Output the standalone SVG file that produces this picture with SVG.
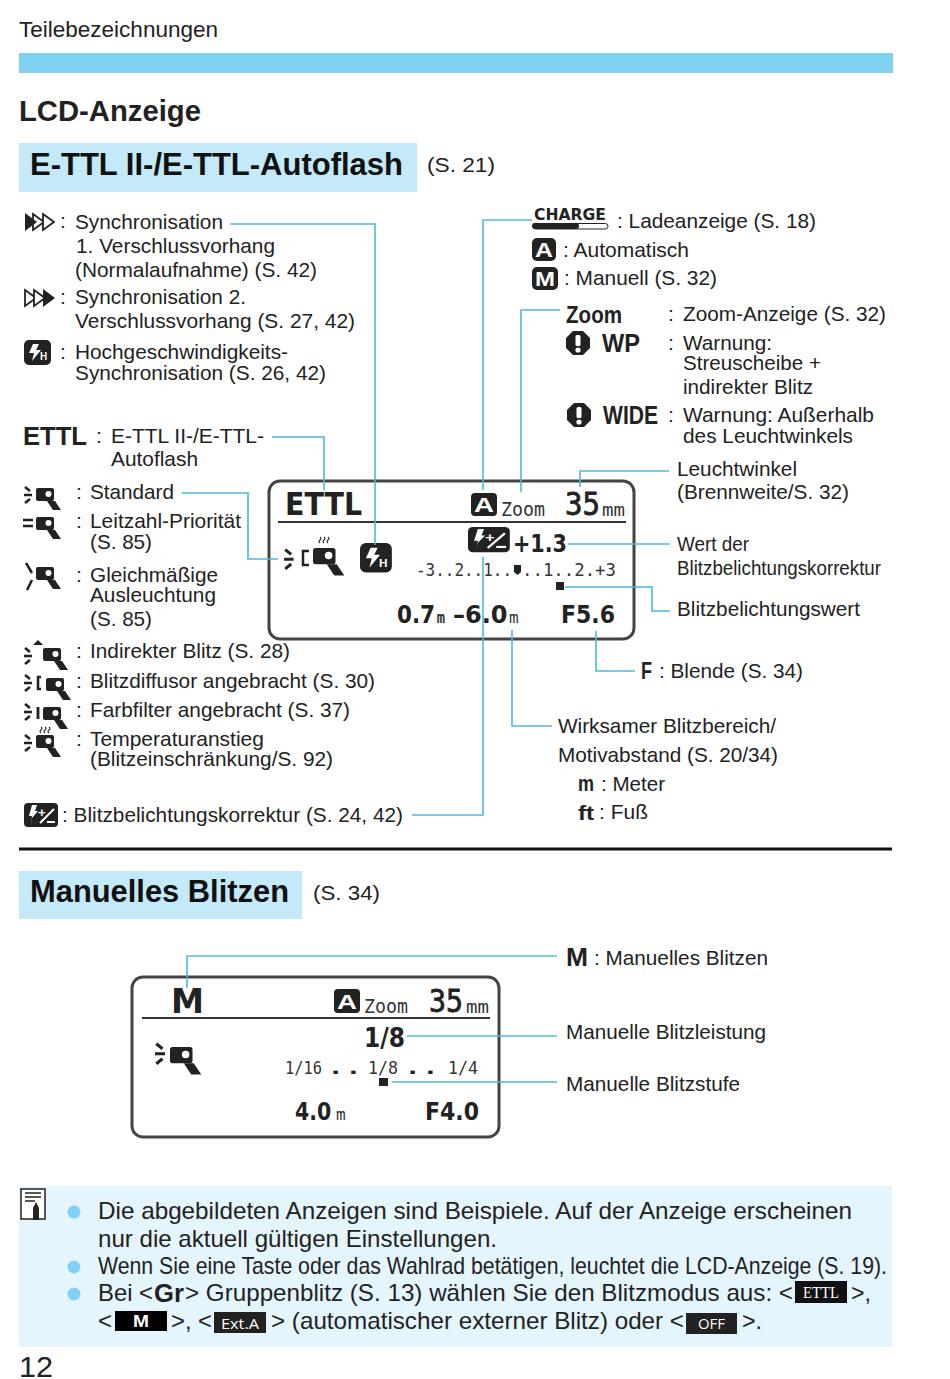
<svg xmlns="http://www.w3.org/2000/svg" width="950" height="1379" viewBox="0 0 950 1379">
<style>
text{font-family:"Liberation Sans",Arial,sans-serif;fill:#222}
.b{font-size:21px}
.s{font-size:20px}
.n{font-size:24px}
.h{font-weight:700}
.t{font-size:32px;font-weight:700;fill:#111}
.lcd{font-family:"DejaVu Sans",sans-serif;font-weight:700;fill:#222}
.med{font-family:"DejaVu Sans Mono",monospace;fill:#222;stroke:#222;stroke-width:.8px}
.thin{font-family:"DejaVu Sans Mono",monospace;fill:#333}
.w{fill:#fff;font-weight:700}
.c{fill:none;stroke:#4db9de;stroke-width:1.6}
.box{fill:#fff;stroke:#444;stroke-width:3}
.div{stroke:#333;stroke-width:2}
.ray{stroke:#222;stroke-width:2.500;fill:none}
.k{fill:#222}
.o{fill:#fff;stroke:#222;stroke-width:1.800}
</style>
<defs>
<g id="head"><rect x="12" y="4" width="18" height="13" rx="2" fill="#222"/><circle cx="24.500" cy="10" r="3" fill="#fff"/><path d="M23 17h8l6 9h-8z" fill="#222"/></g>
<g id="rays"><path class="ray" d="M1 3l5 4M0 11h8M1 19l5-4"/></g>
<g id="waves"><path class="ray" style="stroke-width:1.100" d="M0 0q2 1.500 0 3t0 3M4 0q2 1.500 0 3t0 3M8 0q2 1.500 0 3t0 3"/></g>
<g id="bolt"><path d="M10 2h6l-3 6h5l-9 11 2-8H6z" fill="#fff"/></g>
<g id="fp"><rect width="27" height="25" rx="5" fill="#222"/><use href="#bolt" x="-1" y="2"/><text x="16" y="20" font-size="10" class="w">H</text></g>
<g id="fec"><rect width="34" height="24" rx="4" fill="#222"/><path d="M8 2h5l-2 6h3l-6 7-1 7 1-9H5z" fill="#fff"/><text x="14" y="14" font-size="13" class="w">+</text><path d="M16 20L30 6" stroke="#fff" stroke-width="2"/><path d="M23 19h8" stroke="#fff" stroke-width="2"/></g>
<g id="warn"><path d="M-5-12H5L12-5V5L5 12H-5L-12 5V-5z" fill="#222"/><rect x="-2.500" y="-8" width="5" height="11" rx="1.500" fill="#fff"/><circle cy="7" r="2.600" fill="#fff"/></g>
</defs>

<g id="header">
<text x="19" y="37" font-size="22" textLength="199" lengthAdjust="spacingAndGlyphs">Teilebezeichnungen</text>
<rect x="19" y="53" width="874" height="20" fill="#7fd1f2"/>
<text x="19" y="121" font-size="29" class="h" fill="#111" textLength="182" lengthAdjust="spacingAndGlyphs">LCD-Anzeige</text>
</g>

<g id="section-ettl">
<rect x="19" y="143" width="398" height="49" fill="#c4e9f8"/>
<text x="30" y="175" class="t" textLength="373" lengthAdjust="spacingAndGlyphs">E-TTL II-/E-TTL-Autoflash</text>
<text x="427" y="172" class="b" textLength="68" lengthAdjust="spacingAndGlyphs">(S. 21)</text>
</g>

<g id="legend-left">
<g id="sync1"><path class="o" d="M33 214l11 8-11 8z"/><path class="o" d="M43 214l11 8-11 8z"/><path class="k" d="M25 213l12 9-12 9z"/><text x="60" y="228" class="b">:</text>
<text x="75" y="229" class="b" textLength="148" lengthAdjust="spacingAndGlyphs">Synchronisation</text>
<text x="76" y="253" class="b" textLength="199" lengthAdjust="spacingAndGlyphs">1. Verschlussvorhang</text>
<text x="75" y="277" class="b" textLength="242" lengthAdjust="spacingAndGlyphs">(Normalaufnahme) (S. 42)</text></g>
<g id="sync2"><path class="o" d="M25 290l11 8-11 8z"/><path class="o" d="M34 290l11 8-11 8z"/><path class="k" d="M43 289l12 9-12 9z"/><text x="60" y="304" class="b">:</text>
<text x="75" y="304" class="b" textLength="171" lengthAdjust="spacingAndGlyphs">Synchronisation 2.</text>
<text x="75" y="328" class="b" textLength="280" lengthAdjust="spacingAndGlyphs">Verschlussvorhang (S. 27, 42)</text></g>
<g id="hss"><use href="#fp" x="24" y="340"/><text x="60" y="359" class="b">:</text>
<text x="75" y="359" class="b" textLength="213" lengthAdjust="spacingAndGlyphs">Hochgeschwindigkeits-</text>
<text x="75" y="380" class="b" textLength="251" lengthAdjust="spacingAndGlyphs">Synchronisation (S. 26, 42)</text></g>
<g id="ettl"><text x="23" y="445" font-size="25" class="h" textLength="64" lengthAdjust="spacingAndGlyphs">ETTL</text><text x="96" y="443" class="b">:</text>
<text x="111" y="443" class="b" textLength="153" lengthAdjust="spacingAndGlyphs">E-TTL II-/E-TTL-</text>
<text x="111" y="466" class="b" textLength="87" lengthAdjust="spacingAndGlyphs">Autoflash</text></g>
<g id="standard"><use href="#rays" x="24" y="484"/><use href="#head" x="24" y="484"/><text x="76" y="499" class="b">:</text>
<text x="90" y="499" class="b" textLength="84" lengthAdjust="spacingAndGlyphs">Standard</text></g>
<g id="guide"><path class="ray" d="M23 520h10M23 526h10"/><use href="#head" x="24" y="513"/><text x="76" y="528" class="b">:</text>
<text x="90" y="528" class="b" textLength="151" lengthAdjust="spacingAndGlyphs">Leitzahl-Priorität</text>
<text x="90" y="549" class="b" textLength="62" lengthAdjust="spacingAndGlyphs">(S. 85)</text></g>
<g id="even"><path class="ray" d="M26 563l6 10M32 580l-5 10"/><use href="#head" x="24" y="563"/><text x="76" y="582" class="b">:</text>
<text x="90" y="582" class="b" textLength="128" lengthAdjust="spacingAndGlyphs">Gleichmäßige</text>
<text x="90" y="602" class="b" textLength="126" lengthAdjust="spacingAndGlyphs">Ausleuchtung</text>
<text x="90" y="626" class="b" textLength="62" lengthAdjust="spacingAndGlyphs">(S. 85)</text></g>
<g id="bounce"><use href="#rays" x="24" y="645"/><path class="k" d="M38 640l5 5h-10z"/><use href="#head" x="31" y="644"/><text x="76" y="658" class="b">:</text>
<text x="90" y="658" class="b" textLength="200" lengthAdjust="spacingAndGlyphs">Indirekter Blitz (S. 28)</text></g>
<g id="diffuser"><use href="#rays" x="24" y="672"/><path class="ray" d="M41 677h-3v12h3"/><use href="#head" x="34" y="674"/><text x="76" y="688" class="b">:</text>
<text x="90" y="688" class="b" textLength="285" lengthAdjust="spacingAndGlyphs">Blitzdiffusor angebracht (S. 30)</text></g>
<g id="filter"><use href="#rays" x="24" y="701"/><path class="ray" style="stroke-width:2.800" d="M38 707v12"/><use href="#head" x="31" y="703"/><text x="76" y="717" class="b">:</text>
<text x="90" y="717" class="b" textLength="260" lengthAdjust="spacingAndGlyphs">Farbfilter angebracht (S. 37)</text></g>
<g id="temp"><use href="#rays" x="24" y="732"/><use href="#waves" x="41" y="727"/><use href="#head" x="24" y="731"/><text x="76" y="746" class="b">:</text>
<text x="90" y="746" class="b" textLength="174" lengthAdjust="spacingAndGlyphs">Temperaturanstieg</text>
<text x="90" y="766" class="b" textLength="243" lengthAdjust="spacingAndGlyphs">(Blitzeinschränkung/S. 92)</text></g>
<g id="fec-label"><use href="#fec" x="24" y="803"/>
<text x="62" y="822" class="b" textLength="341" lengthAdjust="spacingAndGlyphs">: Blitzbelichtungskorrektur (S. 24, 42)</text></g>
</g>

<g id="legend-right">
<g id="charge"><text x="534" y="220" font-size="15" style="font-family:'DejaVu Sans',sans-serif" class="h" textLength="72" lengthAdjust="spacingAndGlyphs">CHARGE</text>
<rect x="533" y="223.500" width="75" height="5.500" rx="2.700" fill="#fff" stroke="#222" stroke-width="1"/><rect x="532" y="223" width="47" height="6" rx="3" fill="#222"/>
<text x="617" y="228" class="b" textLength="199" lengthAdjust="spacingAndGlyphs">: Ladeanzeige (S. 18)</text></g>
<g id="auto"><rect x="532" y="238" width="24" height="23" rx="5" fill="#222"/><text x="535" y="257" font-size="21" class="w" textLength="18" lengthAdjust="spacingAndGlyphs">A</text>
<text x="563" y="257" class="b" textLength="126" lengthAdjust="spacingAndGlyphs">: Automatisch</text></g>
<g id="manu"><rect x="532" y="267" width="26" height="23" rx="5" fill="#222"/><text x="535" y="286" font-size="21" class="w" textLength="20" lengthAdjust="spacingAndGlyphs">M</text>
<text x="564" y="285" class="b" textLength="153" lengthAdjust="spacingAndGlyphs">: Manuell (S. 32)</text></g>
<g id="zoom"><text x="566" y="323" font-size="24" class="h" textLength="56" lengthAdjust="spacingAndGlyphs">Zoom</text><text x="668" y="321" class="b">:</text>
<text x="683" y="321" class="b" textLength="203" lengthAdjust="spacingAndGlyphs">Zoom-Anzeige (S. 32)</text></g>
<g id="wp"><use href="#warn" x="578" y="343"/><text x="602" y="352" font-size="25" class="h" textLength="38" lengthAdjust="spacingAndGlyphs">WP</text><text x="668" y="350" class="b">:</text>
<text x="683" y="350" class="b" textLength="89" lengthAdjust="spacingAndGlyphs">Warnung:</text>
<text x="683" y="370" class="b" textLength="138" lengthAdjust="spacingAndGlyphs">Streuscheibe +</text>
<text x="683" y="394" class="b" textLength="130" lengthAdjust="spacingAndGlyphs">indirekter Blitz</text></g>
<g id="wide"><use href="#warn" x="579" y="415"/><text x="603" y="424" font-size="25" class="h" textLength="55" lengthAdjust="spacingAndGlyphs">WIDE</text><text x="668" y="422" class="b">:</text>
<text x="683" y="422" class="b" textLength="191" lengthAdjust="spacingAndGlyphs">Warnung: Außerhalb</text>
<text x="683" y="443" class="b" textLength="170" lengthAdjust="spacingAndGlyphs">des Leuchtwinkels</text></g>
<g id="angle"><text x="677" y="476" class="b" textLength="120" lengthAdjust="spacingAndGlyphs">Leuchtwinkel</text>
<text x="677" y="499" class="b" textLength="172" lengthAdjust="spacingAndGlyphs">(Brennweite/S. 32)</text></g>
<g id="fec-value"><text x="677" y="551" class="s" textLength="72" lengthAdjust="spacingAndGlyphs">Wert der</text>
<text x="677" y="575" class="s" textLength="204" lengthAdjust="spacingAndGlyphs">Blitzbelichtungskorrektur</text></g>
<g id="exposure"><text x="677" y="616" class="b" textLength="183" lengthAdjust="spacingAndGlyphs">Blitzbelichtungswert</text></g>
<g id="aperture"><text x="641" y="679" font-size="24" class="h" textLength="11" lengthAdjust="spacingAndGlyphs">F</text>
<text x="659" y="678" class="b" textLength="144" lengthAdjust="spacingAndGlyphs">: Blende (S. 34)</text></g>
<g id="range"><text x="558" y="733" class="b" textLength="218" lengthAdjust="spacingAndGlyphs">Wirksamer Blitzbereich/</text>
<text x="558" y="762" class="b" textLength="220" lengthAdjust="spacingAndGlyphs">Motivabstand (S. 20/34)</text>
<text x="578" y="791" font-size="22" class="h" textLength="16" lengthAdjust="spacingAndGlyphs">m</text>
<text x="601" y="791" class="b" textLength="64" lengthAdjust="spacingAndGlyphs">: Meter</text>
<text x="578" y="820" font-size="21" class="h" textLength="16" lengthAdjust="spacingAndGlyphs">ft</text>
<text x="599" y="819" class="b" textLength="49" lengthAdjust="spacingAndGlyphs">: Fuß</text></g>
</g>

<g id="lcd-ettl">
<rect class="box" x="269" y="481" width="365" height="158" rx="11"/>
<path class="div" d="M278 522H626"/>
<text x="285" y="515" font-size="32" class="lcd" textLength="77" lengthAdjust="spacingAndGlyphs">ETTL</text>
<rect x="471" y="493" width="26" height="23" rx="4" fill="#222"/><text x="474" y="512" font-size="20" class="w" textLength="20" lengthAdjust="spacingAndGlyphs">A</text>
<text x="501" y="516" font-size="20" class="thin" textLength="44" lengthAdjust="spacingAndGlyphs">Zoom</text>
<text x="565" y="515" font-size="32" class="med" textLength="35" lengthAdjust="spacingAndGlyphs">35</text>
<text x="602" y="516" font-size="17" class="thin" textLength="23" lengthAdjust="spacingAndGlyphs">mm</text>
<use href="#rays" transform="translate(284 546) scale(1.200)"/><path class="ray" d="M309 551h-6v14h6"/>
<use href="#head" transform="translate(298 543) scale(1.250)"/><use href="#waves" x="320" y="537"/>
<use href="#fp" transform="translate(360 543) scale(1.180)"/>
<use href="#fec" transform="translate(468 527) scale(1.230 1.050)"/>
<text x="513" y="552" font-size="24" class="lcd" textLength="54" lengthAdjust="spacingAndGlyphs">+1.3</text>
<text x="416" y="576" font-size="17" class="thin" textLength="96" lengthAdjust="spacingAndGlyphs">-3..2..1..</text>
<path class="k" d="M514 565h7v7l-3.500 3-3.500-3z"/>
<text x="522" y="576" font-size="17" class="thin" textLength="94" lengthAdjust="spacingAndGlyphs">..1..2.+3</text>
<rect x="556" y="582" width="8" height="8" fill="#222"/>
<text transform="translate(397 623) scale(.86 1)" font-size="25" class="lcd">0.7<tspan class="thin" font-size="16" dx="2">m</tspan></text>
<text transform="translate(453 623) scale(.96 1)" font-size="25" class="lcd">–6.0</text>
<text x="509" y="623" font-size="16" class="thin">m</text>
<text transform="translate(561 623) scale(.88 1)" font-size="25" class="lcd">F5.6</text>
</g>

<path d="M19 849H892" stroke="#111" stroke-width="3"/>

<g id="section-manual">
<rect x="19" y="871" width="283" height="48" fill="#c4e9f8"/>
<text x="30" y="902" class="t" textLength="259" lengthAdjust="spacingAndGlyphs">Manuelles Blitzen</text>
<text x="313" y="900" class="b" textLength="67" lengthAdjust="spacingAndGlyphs">(S. 34)</text>
</g>
<g id="legend-manual">
<text x="566" y="966" font-size="25" class="h" textLength="22" lengthAdjust="spacingAndGlyphs">M</text>
<text x="594" y="965" class="b" textLength="174" lengthAdjust="spacingAndGlyphs">: Manuelles Blitzen</text>
<text x="566" y="1039" class="b" textLength="200" lengthAdjust="spacingAndGlyphs">Manuelle Blitzleistung</text>
<text x="566" y="1091" class="b" textLength="174" lengthAdjust="spacingAndGlyphs">Manuelle Blitzstufe</text>
</g>
<g id="lcd-manual">
<rect class="box" x="132" y="977" width="367" height="160" rx="11"/>
<path class="div" d="M142 1018H490"/>
<text x="171" y="1013" font-size="34" class="lcd" textLength="33" lengthAdjust="spacingAndGlyphs">M</text>
<rect x="334" y="989" width="26" height="24" rx="4" fill="#222"/><text x="337" y="1009" font-size="20" class="w" textLength="20" lengthAdjust="spacingAndGlyphs">A</text>
<text x="364" y="1013" font-size="20" class="thin" textLength="44" lengthAdjust="spacingAndGlyphs">Zoom</text>
<text x="429" y="1012" font-size="32" class="med" textLength="34" lengthAdjust="spacingAndGlyphs">35</text>
<text x="466" y="1013" font-size="17" class="thin" textLength="23" lengthAdjust="spacingAndGlyphs">mm</text>
<use href="#rays" transform="translate(155 1040) scale(1.250)"/>
<use href="#head" transform="translate(155 1042) scale(1.250)"/>
<text x="364" y="1047" font-size="26" class="lcd" textLength="41" lengthAdjust="spacingAndGlyphs">1/8</text>
<text x="285" y="1074" font-size="17" class="thin" textLength="37" lengthAdjust="spacingAndGlyphs">1/16</text>
<text x="331" y="1074" font-size="18" class="lcd" textLength="27" lengthAdjust="spacingAndGlyphs">. .</text>
<text x="368" y="1074" font-size="17" class="thin" textLength="30" lengthAdjust="spacingAndGlyphs">1/8</text>
<text x="408" y="1074" font-size="18" class="lcd" textLength="27" lengthAdjust="spacingAndGlyphs">. .</text>
<text x="448" y="1074" font-size="17" class="thin" textLength="30" lengthAdjust="spacingAndGlyphs">1/4</text>
<rect x="379" y="1078" width="9" height="8" fill="#222"/>
<text transform="translate(295 1120) scale(.82 1)" font-size="25" class="lcd">4.0</text>
<text x="336" y="1120" font-size="16" class="thin">m</text>
<text transform="translate(425 1120) scale(.88 1)" font-size="25" class="lcd">F4.0</text>
</g>

<g id="connectors">
<path class="c" d="M230 224H375V545"/>
<path class="c" d="M272 437H324V490"/>
<path class="c" d="M182 493H248V559H278"/>
<path class="c" d="M532 220H483V490"/>
<path class="c" d="M483 557V815H412"/>
<path class="c" d="M560 310H521V492"/>
<path class="c" d="M669 471H580V487"/>
<path class="c" d="M568 544H670"/>
<path class="c" d="M565 587H652V611H670"/>
<path class="c" d="M596 631V671H635"/>
<path class="c" d="M512 630V726H552"/>
<path class="c" d="M187 988V956H557"/>
<path class="c" d="M407 1036H557"/>
<path class="c" d="M392 1082H557"/>
</g>

<g id="note">
<rect x="19" y="1186" width="873" height="161" fill="#e5f5fd"/>
<rect x="21" y="1189" width="24" height="30" fill="#fff" stroke="#222" stroke-width="1.500"/>
<path d="M25 1193h16M25 1197h16M25 1201h10" stroke="#222" stroke-width="1.300"/>
<path d="M33 1220v-12l3-6 3 6v12z" fill="#222"/>
<g fill="#7fd1f5"><circle cx="74" cy="1212" r="6.500"/><circle cx="74" cy="1267" r="6.500"/><circle cx="74" cy="1294" r="6.500"/></g>
<text x="98" y="1219" class="n" textLength="754" lengthAdjust="spacingAndGlyphs">Die abgebildeten Anzeigen sind Beispiele. Auf der Anzeige erscheinen</text>
<text x="98" y="1247" class="n" textLength="399" lengthAdjust="spacingAndGlyphs">nur die aktuell gültigen Einstellungen.</text>
<text x="98" y="1274" class="n" textLength="789" lengthAdjust="spacingAndGlyphs">Wenn Sie eine Taste oder das Wahlrad betätigen, leuchtet die LCD-Anzeige (S. 19).</text>
<text x="98" y="1301" class="n" textLength="55" lengthAdjust="spacingAndGlyphs">Bei &lt;</text>
<text x="154" y="1302" font-size="26" class="h" textLength="30" lengthAdjust="spacingAndGlyphs">Gr</text>
<text x="185" y="1301" class="n" textLength="608" lengthAdjust="spacingAndGlyphs">&gt; Gruppenblitz (S. 13) wählen Sie den Blitzmodus aus: &lt;</text>
<rect x="795" y="1281" width="52" height="22" fill="#111"/>
<text x="803" y="1298" font-size="16" style="font-family:'Liberation Serif',serif;fill:#fff" textLength="36" lengthAdjust="spacingAndGlyphs">ETTL</text>
<text x="851" y="1301" class="n" textLength="20" lengthAdjust="spacingAndGlyphs">&gt;,</text>
<text x="98" y="1329" class="n">&lt;</text>
<rect x="115" y="1311" width="52" height="20" fill="#000"/>
<text x="133" y="1327" font-size="16" class="w" textLength="16" lengthAdjust="spacingAndGlyphs">M</text>
<text x="171" y="1329" class="n" textLength="41" lengthAdjust="spacingAndGlyphs">&gt;, &lt;</text>
<rect x="214" y="1312" width="52" height="21" fill="#222"/>
<text x="221" y="1329" font-size="15" style="font-family:'Open Sans',sans-serif;fill:#fff" textLength="38" lengthAdjust="spacingAndGlyphs">Ext.A</text>
<text x="271" y="1329" class="n" textLength="413" lengthAdjust="spacingAndGlyphs">&gt; (automatischer externer Blitz) oder &lt;</text>
<rect x="686" y="1313" width="51" height="21" fill="#222"/>
<text x="698" y="1329" font-size="14" style="font-family:'Open Sans',sans-serif;fill:#fff" textLength="27" lengthAdjust="spacingAndGlyphs">OFF</text>
<text x="742" y="1329" class="n" textLength="20" lengthAdjust="spacingAndGlyphs">&gt;.</text>
</g>
<text id="page" x="19" y="1377" font-size="30" textLength="34" lengthAdjust="spacingAndGlyphs">12</text>
</svg>
